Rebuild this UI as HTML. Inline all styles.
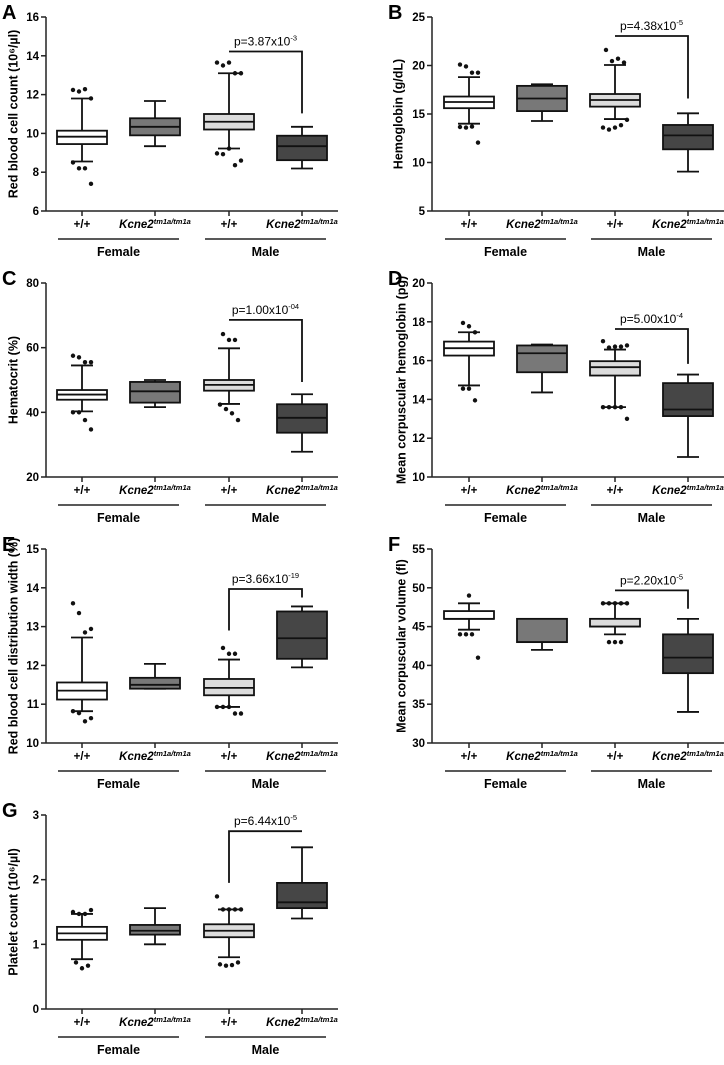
<!DOCTYPE html>
<html><head><meta charset="utf-8"><style>
html,body{margin:0;padding:0;background:#fff;}
svg{display:block;font-family:"Liberation Sans",Arial,sans-serif;}
</style></head><body>
<svg id="fig" width="724" height="1065" viewBox="0 0 724 1065"></svg>
<script>
// ---- data (value arrays) ----
const groups = ["Female +/+", "Female Kcne2", "Male +/+", "Male Kcne2"];
// stats per group: [whiskerLow, q1, median, q3, whiskerHigh]
const aStats = [[8.55,9.45,9.83,10.14,11.8],[9.34,9.9,10.34,10.78,11.67],[9.22,10.2,10.6,11.0,13.1],[8.19,8.62,9.34,9.88,10.34]];
const aOut = [[12.24,12.16,12.28,11.8,8.5,8.2,8.2,7.4],[],[13.65,13.5,13.65,13.1,13.1,8.97,8.93,9.22,8.36,8.6],[]];
const bStats = [[14.0,15.6,16.24,16.8,18.8],[14.28,15.3,16.6,17.9,18.06],[14.48,15.76,16.44,17.06,20.05],[9.06,11.36,12.8,13.87,15.07]];
const bOut = [[20.1,19.9,19.26,19.26,13.66,13.6,13.7,12.05],[],[21.6,20.46,20.7,20.3,13.6,13.4,13.6,13.85,14.4],[]];
const cStats = [[40.3,43.9,45.5,46.9,54.5],[41.6,43,46.5,49.4,50],[42.6,46.7,48.5,50,59.8],[27.8,33.7,38.3,42.5,45.6]];
const cOut = [[57.5,57,55.5,55.5,40,40,37.6,34.7],[],[64.2,62.4,62.4,42.4,41,39.7,37.6],[]];
const dStats = [[14.72,16.26,16.64,16.98,17.46],[14.36,15.4,16.38,16.78,16.83],[13.6,15.23,15.66,15.97,16.57],[11.03,13.14,13.48,14.84,15.28]];
const dOut = [[17.94,17.77,17.46,14.55,14.55,13.95],[],[17.0,16.67,16.72,16.72,16.78,13.6,13.6,13.6,13.6,13.0],[]];
const eStats = [[10.82,11.12,11.35,11.56,12.72],[11.4,11.4,11.5,11.68,12.04],[10.93,11.23,11.42,11.65,12.15],[11.95,12.17,12.7,13.39,13.52]];
const eOut = [[13.6,13.35,12.85,12.94,10.82,10.77,10.56,10.64],[],[12.45,12.3,12.3,10.93,10.93,10.93,10.76,10.76],[]];
const fStats = [[44.6,46,46,47,48],[42,43,43,46,46],[44,45,45,46,48],[34,39,41,44,46]];
const fOut = [[49,44,44,44,41],[],[48,48,48,48,48,43,43,43],[]];
const gStats = [[0.77,1.07,1.17,1.27,1.47],[1.0,1.15,1.21,1.3,1.56],[0.8,1.11,1.21,1.31,1.54],[1.4,1.56,1.65,1.95,2.5]];
const gOut = [[1.5,1.47,1.47,1.53,0.72,0.63,0.67],[],[1.74,1.54,1.54,1.54,1.54,0.69,0.67,0.68,0.72],[]];
// y ticks
const aTicks=[6,8,10,12,14,16], bTicks=[5,10,15,20,25], cTicks=[20,40,60,80], dTicks=[10,12,14,16,18,20], eTicks=[10,11,12,13,14,15], fTicks=[30,35,40,45,50,55], gTicks=[0,1,2,3];
// brackets: [barValue, leftDrop, rightDrop]
const aBr=[14.22,null,11.03], bBr=[23.04,null,16.6], cBr=[68.6,null,49.4], dBr=[17.63,null,15.83], eBr=[13.97,12.9,13.75], fBr=[49.67,null,47.3], gBr=[2.75,1.95,null];
const aP="3.87x10", aE="-3", bP="4.38x10", bE="-5", cP="1.00x10", cE="-04", dP="5.00x10", dE="-4", eP="3.66x10", eE="-19", fP="2.20x10", fE="-5", gP="6.44x10", gE="-5";

const NS="http://www.w3.org/2000/svg";
const svg=document.getElementById('fig');
function mk(tag,attrs,parent,text){const e=document.createElementNS(NS,tag);for(const k in attrs)e.setAttribute(k,attrs[k]);if(text!==undefined)e.textContent=text;(parent||svg).appendChild(e);return e;}
const fills=["#ffffff","#787878","#dcdcdc","#464646"];
const SW=1.8;

function panel(id,letter,title,stats,outs,ticks,br,pTxt,pExp,left,row){
  const g=mk('g',{});
  
  
  const oy=row*266;
  const ax=left?46:432, xEnd=left?338:724;
  const top=17+oy, bot=211+oy;
  const cx=left?[82,155,229,302]:[469,542,615,688];
  const lo=ticks[0], hi=ticks[ticks.length-1];
  const y=v=>bot-(v-lo)/(hi-lo)*(bot-top);
  const lx=left?2:388;
  const L=mk('text',{x:lx,y:top+2,'font-size':20,'font-weight':'bold'},g,letter);
  
  
  // axes
  const ya=mk('line',{x1:ax,y1:top,x2:ax,y2:bot,stroke:'#222','stroke-width':1.5},g);
  
  
  const xa=mk('line',{x1:ax,y1:bot,x2:xEnd,y2:bot,stroke:'#222','stroke-width':1.5},g);
  
  
  ticks.forEach(t=>{
    mk('line',{x1:ax-5,y1:y(t),x2:ax,y2:y(t),stroke:'#222','stroke-width':1.5},g);
    const tl=mk('text',{x:ax-7,y:y(t)+4,'font-size':11.5,'font-weight':'bold','text-anchor':'end'},g,String(t));
    
    
  });
  const tx=left?14:(title.length>25?402:399);
  const yt=mk('text',{x:tx,y:(top+bot)/2,'font-size':12.5,'font-weight':'bold','text-anchor':'middle',transform:`rotate(-90 ${tx} ${(top+bot)/2})`,'dominant-baseline':'middle'},g,title);
  
  
  // boxes
  stats.forEach((s,i)=>{
    const x=cx[i];
    mk('line',{x1:x,y1:bot,x2:x,y2:bot+5,stroke:'#222','stroke-width':1.5},g);
    const bg=mk('g',{},g);
    
    
    mk('line',{x1:x,y1:y(s[0]),x2:x,y2:y(s[4]),stroke:'#111','stroke-width':SW},bg);
    mk('line',{x1:x-11,y1:y(s[0]),x2:x+11,y2:y(s[0]),stroke:'#111','stroke-width':SW},bg);
    mk('line',{x1:x-11,y1:y(s[4]),x2:x+11,y2:y(s[4]),stroke:'#111','stroke-width':SW},bg);
    mk('rect',{x:x-25,y:y(s[3]),width:50,height:Math.max(1,y(s[1])-y(s[3])),fill:fills[i],stroke:'#111','stroke-width':SW},bg);
    mk('line',{x1:x-25,y1:y(s[2]),x2:x+25,y2:y(s[2]),stroke:'#111','stroke-width':SW},bg);
    const hiO=outs[i].filter(v=>v>=s[2]), loO=outs[i].filter(v=>v<s[2]);
    [hiO,loO].forEach(arr=>{
      arr.forEach((v,k)=>{
        const off=(k-(arr.length-1)/2)*6;
        const d=mk('circle',{cx:x+off,cy:y(v),r:2.2,fill:'#111'},bg);
        
        
      });
    });
    // category label
    const lb=mk('text',{x:x,y:bot+17,'font-size':11.5,'font-weight':'bold','text-anchor':'middle'},g);
    
    
    if(i%2===0){lb.textContent='+/+';}
    else{
      mk('tspan',{'font-style':'italic'},lb,'Kcne2');
      mk('tspan',{'font-style':'italic','font-size':7.5,dy:-4},lb,'tm1a/tm1a');
    }
  });
  // group underlines
  [[0,1,'Female'],[2,3,'Male']].forEach(([a,b,n])=>{
    const gl=mk('line',{x1:cx[a]-24,y1:bot+28,x2:cx[b]+24,y2:bot+28,stroke:'#222','stroke-width':1.5},g);
    
    
    const gt=mk('text',{x:(cx[a]+cx[b])/2,y:bot+45,'font-size':12.5,'font-weight':'bold','text-anchor':'middle'},g,n);
    
    
  });
  // bracket
  const by=y(br[0]);
  let d=`M${cx[2]} ${br[1]!==null?y(br[1]):by} L${cx[2]} ${by} L${cx[3]} ${by}`;
  if(br[2]!==null)d+=` L${cx[3]} ${y(br[2])}`;
  const bp=mk('path',{d:d,fill:'none',stroke:'#111','stroke-width':SW},g);
  
  
  const pt=mk('text',{x:(cx[2]+cx[3])/2,y:by-6,'font-size':12,'text-anchor':'middle'},g,'p='+pTxt);
  
  
  mk('tspan',{'font-size':7.5,dy:-5},pt,pExp);
}
panel('a','A','Red blood cell count (10⁶/µl)',aStats,aOut,aTicks,aBr,aP,aE,true,0);
panel('b','B','Hemoglobin (g/dL)',bStats,bOut,bTicks,bBr,bP,bE,false,0);
panel('c','C','Hematocrit (%)',cStats,cOut,cTicks,cBr,cP,cE,true,1);
panel('d','D','Mean corpuscular hemoglobin (pg)',dStats,dOut,dTicks,dBr,dP,dE,false,1);
panel('e','E','Red blood cell distribution width (%)',eStats,eOut,eTicks,eBr,eP,eE,true,2);
panel('f','F','Mean corpuscular volume (fl)',fStats,fOut,fTicks,fBr,fP,fE,false,2);
panel('g','G','Platelet count (10⁶/µl)',gStats,gOut,gTicks,gBr,gP,gE,true,3);
</script>
</body></html>
